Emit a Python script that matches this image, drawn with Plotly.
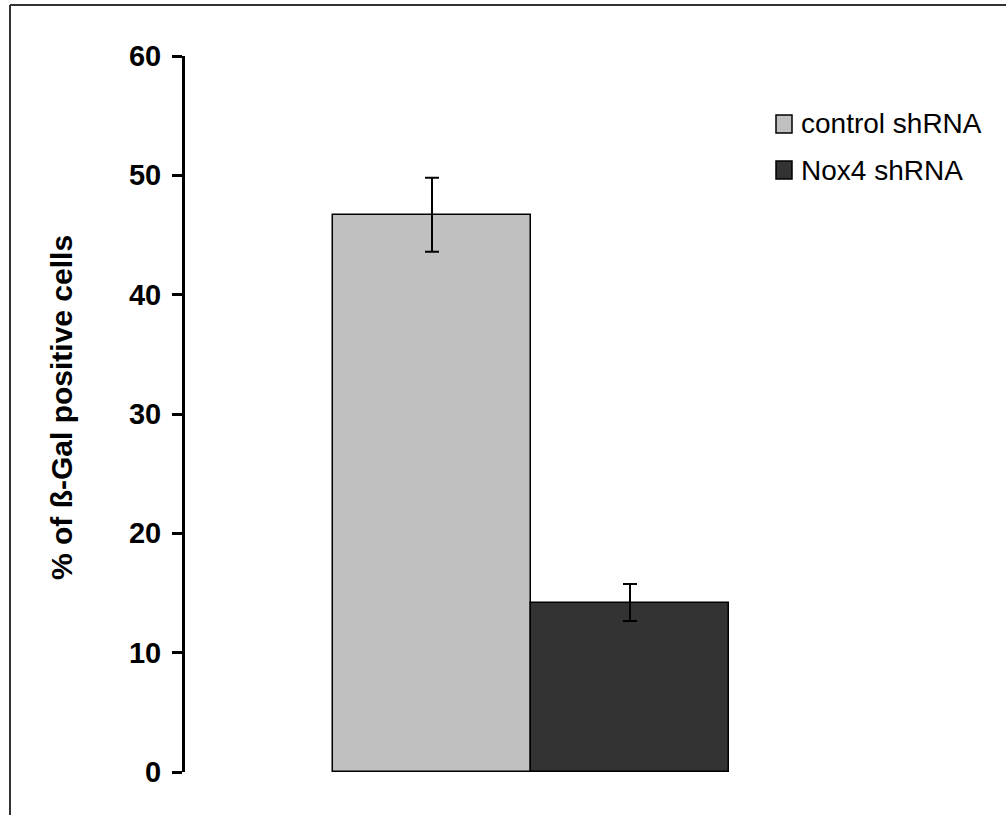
import plotly.graph_objects as go

# Data
series_names = ["control shRNA", "Nox4 shRNA"]
values = [46.7, 14.2]
errors = [3.1, 1.55]
colors = ["#C0C0C0", "#333333"]
y_title = "% of ß-Gal positive cells"
y_ticks = [0, 10, 20, 30, 40, 50, 60]

W, H = 1006, 815
L, R, T, B = 185, 0, 56, 43
PW, PH = W - L - R, H - T - B


def px(xp):
    return (xp - L) / PW


def py(yp):
    return 1 - (yp - T) / PH


fig = go.Figure()
for name, v, e, c in zip(series_names, values, errors, colors):
    fig.add_trace(go.Bar(
        x=[name], y=[v], name=name,
        marker=dict(color=c, line=dict(color="black", width=1.5)),
        error_y=dict(type="data", array=[e], visible=True, color="black", thickness=2, width=7),
        showlegend=False,
    ))

fig.update_layout(
    width=W, height=H,
    margin=dict(l=L, r=R, t=T, b=B, pad=0),
    paper_bgcolor="white", plot_bgcolor="white",
    bargap=0, barmode="group",
    font=dict(family="Liberation Sans, Arial, sans-serif", color="black"),
    xaxis=dict(type="category", range=[-1.2475, 2.899], showticklabels=False,
               showline=False, showgrid=False, zeroline=False, ticks=""),
    yaxis=dict(range=[0, 60], tickvals=y_ticks, ticktext=[f"<b>{t}</b>" for t in y_ticks],
               showline=True, linecolor="black", linewidth=3,
               ticks="outside", ticklen=10, tickwidth=3, tickcolor="black",
               showgrid=False, zeroline=False,
               tickfont=dict(size=29, family="Liberation Sans, Arial, sans-serif"),
               ticklabelstandoff=5),
)

# y-axis title
fig.add_annotation(text=f"<b>{y_title}</b>", xref="paper", yref="paper",
                   x=px(61), y=py(407), xanchor="center", yanchor="middle",
                   textangle=-90, showarrow=False, font=dict(size=30))

# manual legend
leg_y = [124, 170]
for name, c, yc in zip(series_names, colors, leg_y):
    fig.add_shape(type="rect", xref="paper", yref="paper",
                  x0=px(776), x1=px(792), y0=py(yc - 9), y1=py(yc + 9),
                  fillcolor=c, line=dict(color="black", width=1.5))
    fig.add_annotation(text=name, xref="paper", yref="paper",
                       x=px(799), y=py(yc), xanchor="left", yanchor="middle",
                       showarrow=False, font=dict(size=28))

# outer frame lines (left and top)
fig.add_shape(type="line", xref="paper", yref="paper",
              x0=px(10), x1=px(10), y0=py(5), y1=py(H + 5),
              line=dict(color="#333333", width=2))
fig.add_shape(type="line", xref="paper", yref="paper",
              x0=px(10), x1=px(W + 5), y0=py(5), y1=py(5),
              line=dict(color="#333333", width=2))

fig.write_html("out.html")
